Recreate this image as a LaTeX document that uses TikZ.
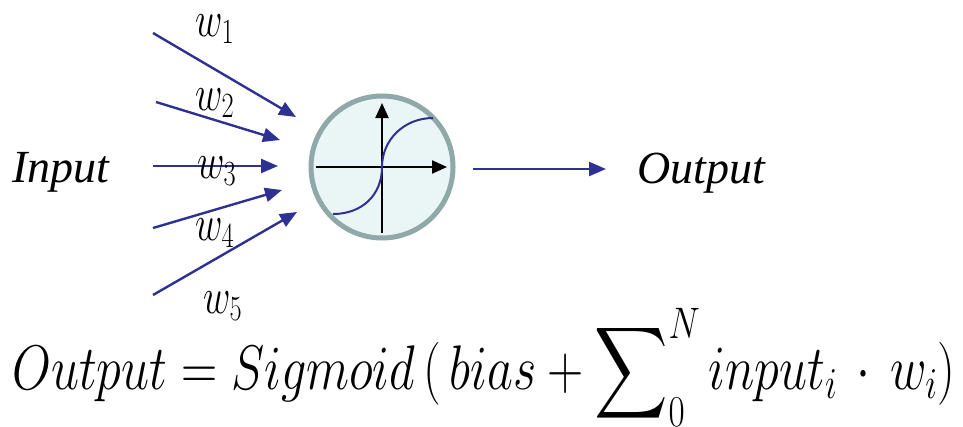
\RequirePackage{fix-cm}
\documentclass[tikz,border=0pt]{standalone}
\usepackage{fontspec}
\setmainfont{Liberation Serif}
\usepackage{graphicx}
\usetikzlibrary{arrows.meta}
\definecolor{navy}{HTML}{2E3192}
\definecolor{rimgray}{HTML}{8FA8A8}
\definecolor{cellfill}{HTML}{EAF5F5}
\tikzset{
  arr/.style={draw=navy, line width=2.4pt, -{Triangle[length=17pt,width=14pt]}},
  axisline/.style={draw=black, line width=2.2pt, -{Triangle[length=15pt,width=13pt]}},
  wlabel/.style={anchor=base west, inner sep=0pt, font=\fontsize{46}{50}\selectfont},
  bigtext/.style={anchor=base west, inner sep=0pt, font=\fontsize{46}{50}\selectfont\itshape},
}
\newcommand{\wsub}[1]{\scalebox{0.82}[1.1]{$w_{#1}$}}
\newcommand{\bigsum}{\mathop{\scalebox{6.4}{\fontsize{10}{12}\selectfont$\displaystyle\sum$}}}
\begin{document}
\begin{tikzpicture}[x=1pt,y=-1pt]
\useasboundingbox (0,0) rectangle (963,426);
% neuron
\node[circle, draw=rimgray, fill=cellfill, line width=5pt, minimum size=142pt, inner sep=0pt] (neuron) at (382,167) {};
\coordinate (hx0) at (316,167); \coordinate (hx1) at (447,167);
\coordinate (vy0) at (382,233); \coordinate (vy1) at (382,103);
\draw[axisline] (hx0) -- (hx1);
\draw[axisline] (vy0) -- (vy1);
\coordinate (c0) at (333,214); \coordinate (c2) at (433,118);
\draw[navy, line width=2pt] (c0) .. controls (362,214) and (382,195) .. (neuron.center) .. controls (382,140) and (404,118) .. (c2);
% inputs
\coordinate (s1) at (153,33);  \coordinate (t1) at (296,117);
\coordinate (s2) at (156,102); \coordinate (t2) at (280,140);
\coordinate (s3) at (153,166); \coordinate (t3) at (278,166);
\coordinate (s4) at (153,228); \coordinate (t4) at (282,190);
\coordinate (s5) at (153,295); \coordinate (t5) at (297,212);
\draw[arr] (s1) -- (t1);
\draw[arr] (s2) -- (t2);
\draw[arr] (s3) -- (t3);
\draw[arr] (s4) -- (t4);
\draw[arr] (s5) -- (t5);
\node[wlabel] (w1) at (195,36) {\wsub{1}};
\node[wlabel] (w2) at (195,110) {\wsub{2}};
\node[wlabel] (w3) at (197,178) {\wsub{3}};
\node[wlabel] (w4) at (195,240) {\wsub{4}};
\node[wlabel] (w5) at (203,313) {\wsub{5}};
% output
\coordinate (o0) at (473,169); \coordinate (o1) at (606,169);
\draw[arr] (o0) -- (o1);
\node[bigtext] (inp) at (12,182) {Input};
\node[bigtext] (outp) at (637,183) {Output};
% formula
\node[anchor=base west, inner sep=0pt, font=\fontsize{63}{70}\selectfont] (formula) at (12,389)
  {\resizebox{943pt}{\height}{$\displaystyle Output = Sigmoid\,(\,bias + \bigsum\nolimits_0^N input_i\,\cdot\,w_i)$}};
\end{tikzpicture}
\end{document}
